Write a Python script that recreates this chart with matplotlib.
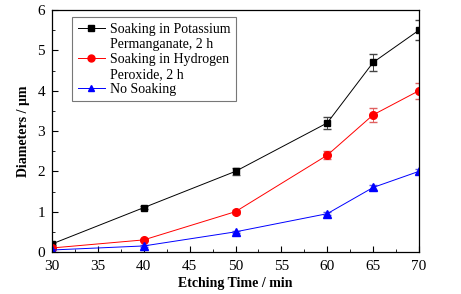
import matplotlib
matplotlib.use("Agg")
import matplotlib.pyplot as plt
from matplotlib.ticker import MultipleLocator
from matplotlib.lines import Line2D

plt.rcParams['font.family'] = ['Liberation Serif', 'DejaVu Serif']

time = [30, 40, 50, 60, 65, 70]
kmno4 = [0.2, 1.1, 2.0, 3.2, 4.7, 5.5]
kmno4_err = [0.03, 0.04, 0.08, 0.15, 0.22, 0.25]
h2o2 = [0.1, 0.3, 1.0, 2.4, 3.4, 4.0]
h2o2_err = [0.02, 0.03, 0.05, 0.1, 0.17, 0.2]
none = [0.05, 0.15, 0.5, 0.95, 1.6, 2.0]
none_err = [0.01, 0.02, 0.03, 0.04, 0.06, 0.07]

label_lines = [["Soaking in Potassium", "Permanganate, 2 h"],
               ["Soaking in Hydrogen", "Peroxide, 2 h"],
               ["No Soaking"]]
colors = ['black', 'red', 'blue']
markers = ['s', 'o', '^']

fig = plt.figure(figsize=(4.61, 2.94), dpi=100)
ax = fig.add_axes([52/461, 1-252/294, (419-52)/461, (252-10)/294])

series = [(kmno4, kmno4_err, '#444444'), (h2o2, h2o2_err, '#e06060'), (none, none_err, '#6060e0')]
for (vals, err, ecol), c, m in zip(series, colors, markers):
    ax.errorbar(time, vals, yerr=err, color=c, marker=m, ms=5.5 if m != 's' else 5,
                lw=0.7, elinewidth=0.7, capsize=3, ecolor=ecol)

ax.set_xlim(30, 70)
ax.set_ylim(0, 6)
ax.xaxis.set_major_locator(MultipleLocator(5))
ax.xaxis.set_minor_locator(MultipleLocator(2.5))
ax.yaxis.set_major_locator(MultipleLocator(1))
ax.yaxis.set_minor_locator(MultipleLocator(0.5))
ax.tick_params(which='both', direction='in', labelsize=11, top=False, right=False)
ax.tick_params(which='major', length=4)
ax.tick_params(which='minor', length=2.5)
ax.tick_params(axis='x', pad=6)
ax.tick_params(axis='y', pad=5)
for s in ax.spines.values():
    s.set_linewidth(0.9)

ax.set_xlabel("Etching Time / min", fontsize=10, fontweight='bold', labelpad=3)
ax.set_ylabel("Diameters / μm", fontsize=10, fontweight='bold', labelpad=5)

handles, labels = [], []
for lines, c, m in zip(label_lines, colors, markers):
    handles.append(Line2D([], [], color=c, marker=m, ms=5 if m != 's' else 4.5, lw=0.7))
    labels.append(lines[0])
    for extra in lines[1:]:
        handles.append(Line2D([], [], color='none', lw=0))
        labels.append(extra)

leg = ax.legend(handles, labels, loc='upper left',
                bbox_to_anchor=(20/367, 1-7/242), fontsize=10,
                frameon=True, fancybox=False, edgecolor='#555555',
                handlelength=2.0, handletextpad=0.3, labelspacing=0.15,
                borderpad=0.4, borderaxespad=0)
leg.get_frame().set_linewidth(0.8)

fig.savefig("out.png", dpi=100)
